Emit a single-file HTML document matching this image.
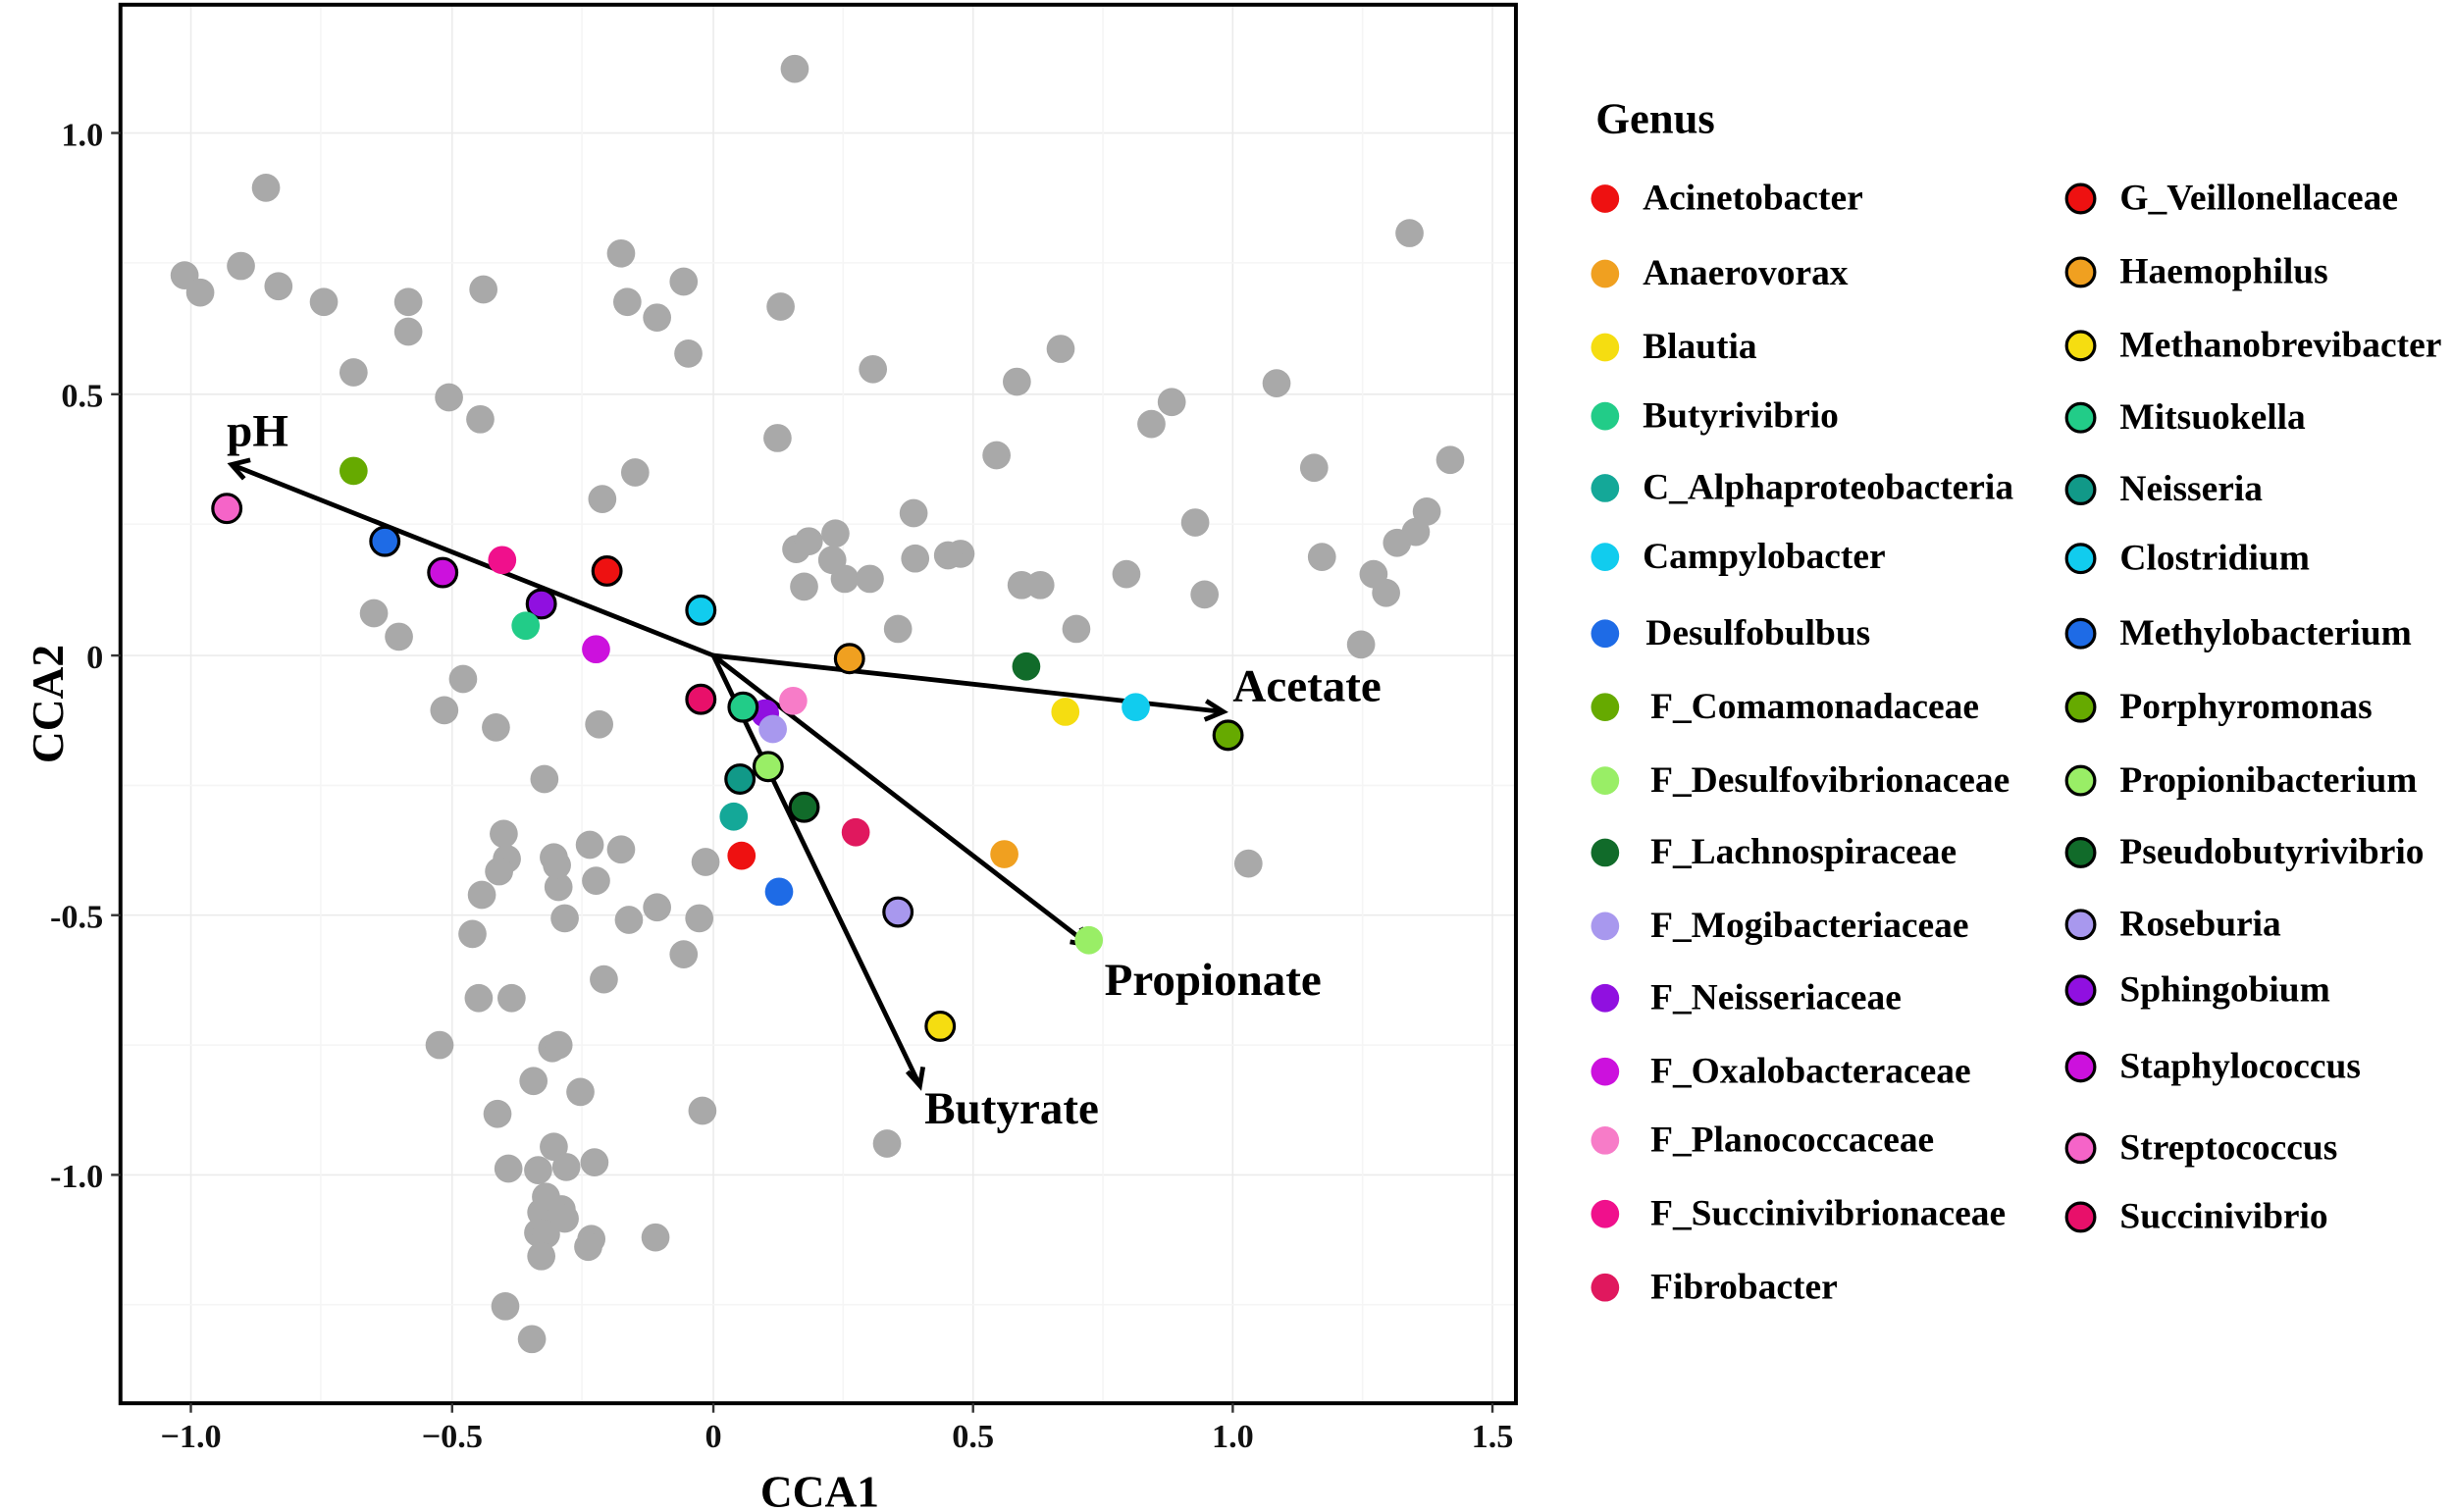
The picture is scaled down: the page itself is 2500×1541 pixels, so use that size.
<!DOCTYPE html>
<html><head><meta charset="utf-8"><style>html,body{margin:0;padding:0;background:#fff}svg{display:block}</style></head><body>
<svg width="2500" height="1541" viewBox="0 0 1568 966.5" xmlns="http://www.w3.org/2000/svg" font-family="Liberation Serif, serif" font-weight="bold">
<rect width="1568" height="967" fill="#fff"/>
<g stroke="#ebebeb" stroke-width="1">
<line x1="122" y1="3" x2="122" y2="897"/><line x1="289" y1="3" x2="289" y2="897"/><line x1="456" y1="3" x2="456" y2="897"/><line x1="622" y1="3" x2="622" y2="897"/><line x1="788" y1="3" x2="788" y2="897"/><line x1="954" y1="3" x2="954" y2="897"/>
<line x1="77" y1="85" x2="969" y2="85"/><line x1="77" y1="252" x2="969" y2="252"/><line x1="77" y1="419" x2="969" y2="419"/><line x1="77" y1="585" x2="969" y2="585"/><line x1="77" y1="751" x2="969" y2="751"/>
</g>
<g stroke="#f5f5f5" stroke-width="1">
<line x1="205" y1="3" x2="205" y2="897"/><line x1="372" y1="3" x2="372" y2="897"/><line x1="539" y1="3" x2="539" y2="897"/><line x1="705" y1="3" x2="705" y2="897"/><line x1="871" y1="3" x2="871" y2="897"/>
<line x1="77" y1="168" x2="969" y2="168"/><line x1="77" y1="335" x2="969" y2="335"/><line x1="77" y1="502" x2="969" y2="502"/><line x1="77" y1="668" x2="969" y2="668"/><line x1="77" y1="834" x2="969" y2="834"/>
</g>
<g fill="#a9a9a9">
<circle cx="508" cy="44" r="9"/><circle cx="170" cy="120" r="9"/><circle cx="118" cy="176" r="9"/><circle cx="128" cy="187" r="9"/><circle cx="154" cy="170" r="9"/><circle cx="178" cy="183" r="9"/><circle cx="207" cy="193" r="9"/><circle cx="226" cy="238" r="9"/><circle cx="261" cy="193" r="9"/><circle cx="261" cy="212" r="9"/><circle cx="287" cy="254" r="9"/><circle cx="307" cy="268" r="9"/><circle cx="309" cy="185" r="9"/><circle cx="397" cy="162" r="9"/><circle cx="401" cy="193" r="9"/><circle cx="420" cy="203" r="9"/><circle cx="437" cy="180" r="9"/><circle cx="440" cy="226" r="9"/><circle cx="406" cy="302" r="9"/><circle cx="385" cy="319" r="9"/><circle cx="499" cy="196" r="9"/><circle cx="497" cy="280" r="9"/><circle cx="558" cy="236" r="9"/><circle cx="637" cy="291" r="9"/><circle cx="650" cy="244" r="9"/><circle cx="678" cy="223" r="9"/><circle cx="749" cy="257" r="9"/><circle cx="736" cy="271" r="9"/><circle cx="764" cy="334" r="9"/><circle cx="770" cy="380" r="9"/><circle cx="816" cy="245" r="9"/><circle cx="840" cy="299" r="9"/><circle cx="845" cy="356" r="9"/><circle cx="893" cy="347" r="9"/><circle cx="901" cy="149" r="9"/><circle cx="927" cy="294" r="9"/><circle cx="912" cy="327" r="9"/><circle cx="905" cy="340" r="9"/><circle cx="878" cy="367" r="9"/><circle cx="886" cy="379" r="9"/><circle cx="870" cy="412" r="9"/><circle cx="720" cy="367" r="9"/><circle cx="688" cy="402" r="9"/><circle cx="653" cy="374" r="9"/><circle cx="665" cy="374" r="9"/><circle cx="614" cy="354" r="9"/><circle cx="584" cy="328" r="9"/><circle cx="585" cy="357" r="9"/><circle cx="606" cy="355" r="9"/><circle cx="509" cy="351" r="9"/><circle cx="517" cy="346" r="9"/><circle cx="514" cy="375" r="9"/><circle cx="532" cy="358" r="9"/><circle cx="534" cy="341" r="9"/><circle cx="540" cy="370" r="9"/><circle cx="556" cy="370" r="9"/><circle cx="574" cy="402" r="9"/><circle cx="239" cy="392" r="9"/><circle cx="255" cy="407" r="9"/><circle cx="296" cy="434" r="9"/><circle cx="284" cy="454" r="9"/><circle cx="317" cy="465" r="9"/><circle cx="383" cy="463" r="9"/><circle cx="348" cy="498" r="9"/><circle cx="322" cy="533" r="9"/><circle cx="324" cy="549" r="9"/><circle cx="319" cy="557" r="9"/><circle cx="354" cy="548" r="9"/><circle cx="357" cy="567" r="9"/><circle cx="356" cy="553" r="9"/><circle cx="361" cy="587" r="9"/><circle cx="377" cy="540" r="9"/><circle cx="381" cy="563" r="9"/><circle cx="397" cy="543" r="9"/><circle cx="402" cy="588" r="9"/><circle cx="451" cy="551" r="9"/><circle cx="420" cy="580" r="9"/><circle cx="437" cy="610" r="9"/><circle cx="447" cy="587" r="9"/><circle cx="386" cy="626" r="9"/><circle cx="308" cy="572" r="9"/><circle cx="302" cy="597" r="9"/><circle cx="306" cy="638" r="9"/><circle cx="327" cy="638" r="9"/><circle cx="281" cy="668" r="9"/><circle cx="353" cy="670" r="9"/><circle cx="357" cy="668" r="9"/><circle cx="341" cy="691" r="9"/><circle cx="371" cy="698" r="9"/><circle cx="318" cy="712" r="9"/><circle cx="354" cy="733" r="9"/><circle cx="344" cy="748" r="9"/><circle cx="325" cy="747" r="9"/><circle cx="362" cy="746" r="9"/><circle cx="380" cy="743" r="9"/><circle cx="349" cy="765" r="9"/><circle cx="346" cy="775" r="9"/><circle cx="344" cy="788" r="9"/><circle cx="359" cy="773" r="9"/><circle cx="349" cy="789" r="9"/><circle cx="361" cy="779" r="9"/><circle cx="346" cy="803" r="9"/><circle cx="378" cy="792" r="9"/><circle cx="376" cy="797" r="9"/><circle cx="419" cy="791" r="9"/><circle cx="323" cy="835" r="9"/><circle cx="340" cy="856" r="9"/><circle cx="449" cy="710" r="9"/><circle cx="567" cy="731" r="9"/><circle cx="798" cy="552" r="9"/>
</g>
<g stroke="#000" stroke-width="3" fill="none">
<line x1="456" y1="419" x2="148" y2="297"/><polyline points="160,294 148,297 156,306"/>
<line x1="456" y1="419" x2="782" y2="455"/><polyline points="771,448 782,455 770,460"/>
<line x1="456" y1="419" x2="696" y2="604"/><polyline points="684,602 696,604 691,593"/>
<line x1="456" y1="419" x2="588" y2="694"/><polyline points="580,685 588,694 590,682"/>
</g>
<g stroke="#000" stroke-width="2">
<circle cx="145" cy="325" r="9" fill="#f564c8"/>
<circle cx="226" cy="301" r="9" fill="#66aa00" stroke="none"/>
<circle cx="246" cy="346" r="9" fill="#1e6be6"/>
<circle cx="283" cy="366" r="9" fill="#cc11dd"/>
<circle cx="321" cy="358" r="9" fill="#f0108c" stroke="none"/>
<circle cx="388" cy="365" r="9" fill="#ee1111"/>
<circle cx="346" cy="386" r="9" fill="#9010e0"/>
<circle cx="336" cy="400" r="9" fill="#22cc88" stroke="none"/>
<circle cx="381" cy="415" r="9" fill="#cc11dd" stroke="none"/>
<circle cx="448" cy="390" r="9" fill="#11ccee"/>
<circle cx="448" cy="447" r="9" fill="#e8106a"/>
<circle cx="543" cy="421" r="9" fill="#f0a020"/>
<circle cx="656" cy="426" r="9" fill="#116b2a" stroke="none"/>
<circle cx="681" cy="455" r="9" fill="#f5dd11" stroke="none"/>
<circle cx="726" cy="452" r="9" fill="#11ccee" stroke="none"/>
<circle cx="785" cy="470" r="9" fill="#66aa00"/>
<circle cx="507" cy="448" r="9" fill="#f77cc8" stroke="none"/>
<circle cx="489" cy="456" r="9" fill="#9010e0" stroke="none"/>
<circle cx="475" cy="452" r="9" fill="#22cc88"/>
<circle cx="494" cy="466" r="9" fill="#a898ee" stroke="none"/>
<circle cx="473" cy="498" r="9" fill="#119988"/>
<circle cx="491" cy="490" r="9" fill="#99ee66"/>
<circle cx="514" cy="516" r="9" fill="#116b2a"/>
<circle cx="469" cy="522" r="9" fill="#14a898" stroke="none"/>
<circle cx="547" cy="532" r="9" fill="#e0185e" stroke="none"/>
<circle cx="474" cy="547" r="9" fill="#ee1111" stroke="none"/>
<circle cx="642" cy="546" r="9" fill="#f0a020" stroke="none"/>
<circle cx="498" cy="570" r="9" fill="#1e6be6" stroke="none"/>
<circle cx="574" cy="583" r="9" fill="#a898ee"/>
<circle cx="696" cy="601" r="9" fill="#99ee66" stroke="none"/>
<circle cx="601" cy="656" r="9" fill="#f5dd11"/>
</g>
<g font-size="29.5" fill="#000">
<text x="145" y="285">pH</text><text x="788" y="448">Acetate</text><text x="706" y="636">Propionate</text><text x="591" y="718">Butyrate</text>
</g>
<rect x="77" y="3" width="892" height="894" fill="none" stroke="#000" stroke-width="2.5"/>
<g stroke="#333" stroke-width="1.5">
<line x1="122" y1="897" x2="122" y2="903"/><line x1="289" y1="897" x2="289" y2="903"/><line x1="456" y1="897" x2="456" y2="903"/><line x1="622" y1="897" x2="622" y2="903"/><line x1="788" y1="897" x2="788" y2="903"/><line x1="954" y1="897" x2="954" y2="903"/>
<line x1="71" y1="85" x2="77" y2="85"/><line x1="71" y1="252" x2="77" y2="252"/><line x1="71" y1="419" x2="77" y2="419"/><line x1="71" y1="585" x2="77" y2="585"/><line x1="71" y1="751" x2="77" y2="751"/>
</g>
<g font-size="21.5" fill="#111" text-anchor="middle">
<text x="122" y="925">−1.0</text><text x="289" y="925">−0.5</text><text x="456" y="925">0</text><text x="622" y="925">0.5</text><text x="788" y="925">1.0</text><text x="954" y="925">1.5</text>
</g>
<g font-size="21.5" fill="#111" text-anchor="end">
<text x="66" y="93">1.0</text><text x="66" y="260">0.5</text><text x="66" y="427">0</text><text x="66" y="593">-0.5</text><text x="66" y="759">-1.0</text>
</g>
<text x="524" y="963" font-size="28.5" text-anchor="middle">CCA1</text>
<text transform="translate(40,450) rotate(-90)" font-size="28.5" text-anchor="middle">CCA2</text>
<text x="1020" y="85" font-size="28">Genus</text>
<g font-size="23.5" fill="#000">
<circle cx="1026" cy="127" r="9" fill="#ee1111"/><text x="1050" y="134">Acinetobacter</text>
<circle cx="1026" cy="175" r="9" fill="#f0a020"/><text x="1050" y="182">Anaerovorax</text>
<circle cx="1026" cy="222" r="9" fill="#f5dd11"/><text x="1050" y="229">Blautia</text>
<circle cx="1026" cy="266" r="9" fill="#22cc88"/><text x="1050" y="273">Butyrivibrio</text>
<circle cx="1026" cy="312" r="9" fill="#14a898"/><text x="1050" y="319">C_Alphaproteobacteria</text>
<circle cx="1026" cy="356" r="9" fill="#11ccee"/><text x="1050" y="363">Campylobacter</text>
<circle cx="1026" cy="405" r="9" fill="#1e6be6"/><text x="1052" y="412">Desulfobulbus</text>
<circle cx="1026" cy="452" r="9" fill="#66aa00"/><text x="1055" y="459">F_Comamonadaceae</text>
<circle cx="1026" cy="499" r="9" fill="#99ee66"/><text x="1055" y="506">F_Desulfovibrionaceae</text>
<circle cx="1026" cy="545" r="9" fill="#116b2a"/><text x="1055" y="552">F_Lachnospiraceae</text>
<circle cx="1026" cy="592" r="9" fill="#a898ee"/><text x="1055" y="599">F_Mogibacteriaceae</text>
<circle cx="1026" cy="638" r="9" fill="#9010e0"/><text x="1055" y="645">F_Neisseriaceae</text>
<circle cx="1026" cy="685" r="9" fill="#cc11dd"/><text x="1055" y="692">F_Oxalobacteraceae</text>
<circle cx="1026" cy="729" r="9" fill="#f77cc8"/><text x="1055" y="736">F_Planococcaceae</text>
<circle cx="1026" cy="776" r="9" fill="#f0108c"/><text x="1055" y="783">F_Succinivibrionaceae</text>
<circle cx="1026" cy="823" r="9" fill="#e0185e"/><text x="1055" y="830">Fibrobacter</text>
<g stroke="#000" stroke-width="2">
<circle cx="1330" cy="127" r="9" fill="#ee1111"/><circle cx="1330" cy="174" r="9" fill="#f0a020"/><circle cx="1330" cy="221" r="9" fill="#f5dd11"/><circle cx="1330" cy="267" r="9" fill="#22cc88"/><circle cx="1330" cy="313" r="9" fill="#119988"/><circle cx="1330" cy="357" r="9" fill="#11ccee"/><circle cx="1330" cy="405" r="9" fill="#1e6be6"/><circle cx="1330" cy="452" r="9" fill="#66aa00"/><circle cx="1330" cy="499" r="9" fill="#99ee66"/><circle cx="1330" cy="545" r="9" fill="#116b2a"/><circle cx="1330" cy="591" r="9" fill="#a898ee"/><circle cx="1330" cy="633" r="9" fill="#9010e0"/><circle cx="1330" cy="682" r="9" fill="#cc11dd"/><circle cx="1330" cy="734" r="9" fill="#f564c8"/><circle cx="1330" cy="778" r="9" fill="#e8106a"/>
</g>
<text x="1355" y="134">G_Veillonellaceae</text><text x="1355" y="181">Haemophilus</text><text x="1355" y="228">Methanobrevibacter</text><text x="1355" y="274">Mitsuokella</text><text x="1355" y="320">Neisseria</text><text x="1355" y="364">Clostridium</text><text x="1355" y="412">Methylobacterium</text><text x="1355" y="459">Porphyromonas</text><text x="1355" y="506">Propionibacterium</text><text x="1355" y="552">Pseudobutyrivibrio</text><text x="1355" y="598">Roseburia</text><text x="1355" y="640">Sphingobium</text><text x="1355" y="689">Staphylococcus</text><text x="1355" y="741">Streptococcus</text><text x="1355" y="785">Succinivibrio</text>
</g>
</svg>
</body></html>
